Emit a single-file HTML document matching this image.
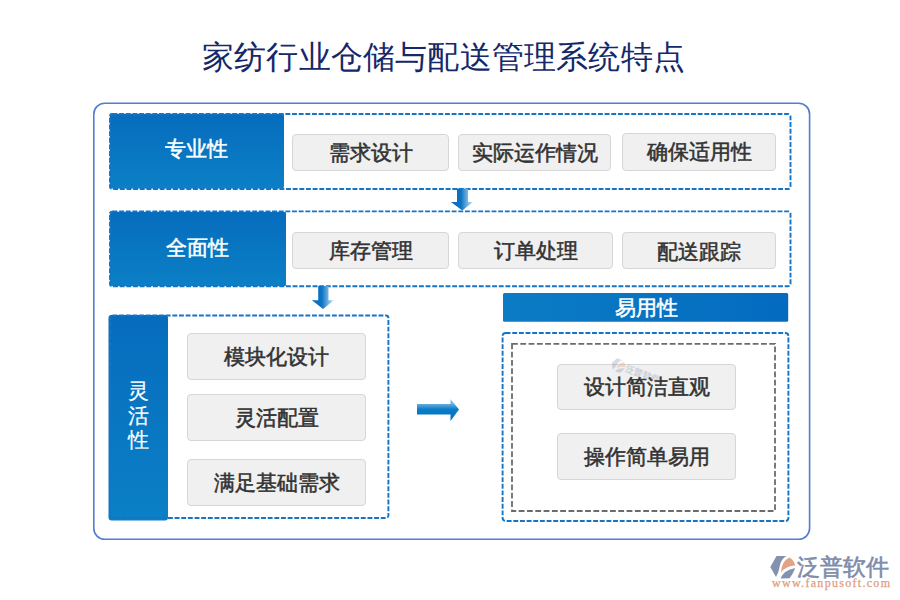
<!DOCTYPE html>
<html><head><meta charset="utf-8">
<style>
html,body{margin:0;padding:0;background:#fff;}
body{width:900px;height:600px;position:relative;overflow:hidden;font-family:"Liberation Serif",serif;}
.a{position:absolute;}
svg.bg{position:absolute;left:0;top:0;}
.title{position:absolute;left:0;top:0;width:900px;height:112px;}
.t{position:absolute;display:flex;align-items:center;justify-content:center;white-space:nowrap;}
.title-t{left:202px;top:37px;letter-spacing:0.2px;height:40px;font-size:32px;color:#15296a;line-height:40px;}
.btn{position:absolute;box-sizing:border-box;background:#f0f0f0;border:1px solid #d6d6d6;border-radius:4px;display:flex;align-items:center;justify-content:center;font-size:21px;font-weight:normal;-webkit-text-stroke:0.55px #333;color:#333;white-space:nowrap;}
.dsh{fill:none;stroke:#1474c6;stroke-width:1.9;stroke-dasharray:4.9 1.75;}
.lbl{position:absolute;display:flex;align-items:center;justify-content:center;color:#fff;font-size:21px;font-weight:normal;-webkit-text-stroke:0.5px #fff;white-space:nowrap;}
</style></head><body>
<svg class="bg" width="900" height="600" viewBox="0 0 900 600">
<defs>
<linearGradient id="gv" x1="0" y1="0" x2="0" y2="1">
<stop offset="0" stop-color="#066cbd"/><stop offset="1" stop-color="#0b80c6"/>
</linearGradient>
<linearGradient id="gh" x1="0" y1="0" x2="1" y2="0">
<stop offset="0" stop-color="#0b7cc5"/><stop offset="1" stop-color="#046bc0"/>
</linearGradient>
<linearGradient id="ad" x1="0" y1="0" x2="1" y2="0">
<stop offset="0" stop-color="#066bbf"/><stop offset="0.45" stop-color="#0c72c2"/><stop offset="0.78" stop-color="#7fbbe5"/><stop offset="1" stop-color="#c4e1f4"/>
</linearGradient>
<linearGradient id="ar" x1="0" y1="0" x2="0" y2="1">
<stop offset="0" stop-color="#a2d0f0"/><stop offset="0.23" stop-color="#66ace0"/><stop offset="0.47" stop-color="#0a7cc6"/><stop offset="1" stop-color="#0470c0"/>
</linearGradient>
</defs>
<!-- outer box -->
<rect x="93.8" y="103.2" width="715.8" height="436.1" rx="11" ry="11" fill="none" stroke="#527dd3" stroke-width="1.6"/>
<!-- row1 -->
<rect x="109" y="113" width="175" height="76" rx="3" fill="url(#gv)"/>
<rect x="109.5" y="113.5" width="681" height="75.5" rx="2.5" fill="none" stroke="#fff" stroke-opacity="0.8" stroke-width="1"/>
<rect x="110" y="114" width="680.5" height="75" rx="2.5" class="dsh"/>
<!-- arrow 1 -->
<path d="M457 188.5 H468 V202 H473 L462.3 210.5 L451 202 H457 Z" fill="url(#ad)"/>
<!-- row2 -->
<rect x="109" y="211" width="177" height="76" rx="3" fill="url(#gv)"/>
<rect x="109.5" y="211.5" width="681" height="75" rx="2.5" fill="none" stroke="#fff" stroke-opacity="0.8" stroke-width="1"/>
<rect x="110" y="211.4" width="680.5" height="74.9" rx="2.5" class="dsh"/>
<!-- arrow 2 -->
<path d="M318.2 286 H328.5 V300.3 H333.8 L323.1 309 L311.9 300.3 H318.2 Z" fill="url(#ad)"/>
<!-- row3 left -->
<rect x="108.5" y="315" width="59.5" height="205.5" rx="3" fill="url(#gv)"/>
<rect x="110" y="315.5" width="278.4" height="202.5" rx="2.5" class="dsh"/>
<!-- right arrow -->
<path d="M417 404 H450.5 V399 L459 409.5 L450.5 421 V414.5 H417 Z" fill="url(#ar)"/>
<!-- easy bar -->
<rect x="503" y="293" width="285.2" height="28.8" rx="1.5" fill="url(#gh)"/>
<rect x="502.6" y="333" width="285.8" height="188" rx="3" class="dsh"/>
<rect x="512" y="343.9" width="263" height="167.1" fill="none" stroke="#6c6c6c" stroke-width="1.8" stroke-dasharray="5.8 2.5"/>
<!-- logo icon -->
<path d="M776.5 556 L786.5 556 Q781 559 779.8 566 Q779 572 776 577 L770.3 567 Z" fill="#8492b0"/>
<path d="M781 572.5 Q781.5 561 789.5 557.5 Q794 560 795.2 565.6 Q786 566 781 572.5 Z" fill="#e4a285"/>
<path d="M780.5 578.5 Q784 570 795.3 568 Q793 574 789.5 578.3 Z" fill="#8492b0"/>
</svg>
<div class="a" style="left:797px;top:553px;font-family:'Liberation Sans',sans-serif;font-size:23px;line-height:28px;color:#7f8caa;white-space:nowrap;-webkit-text-stroke:0.6px #7f8caa;">泛普软件</div>
<div class="a" style="left:772px;top:577px;font-family:'Liberation Serif',serif;font-size:12px;line-height:13px;letter-spacing:1.3px;color:#e09c7e;-webkit-text-stroke:0.25px #e09c7e;white-space:nowrap;">www.fanpusoft.com</div>

<div class="a" style="left:614px;top:356px;width:60px;height:26px;opacity:0.32;transform:rotate(20deg);transform-origin:0 0;z-index:5;pointer-events:none;">
<svg width="15" height="15" viewBox="770 555 26 24" style="position:absolute;left:0px;top:0px;"><path d="M776.5 556 L786.5 556 Q781 559 779.8 566 Q779 572 776 577 L770.3 567 Z" fill="#8492b0"/><path d="M781 572.5 Q781.5 561 789.5 557.5 Q794 560 795.2 565.6 Q786 566 781 572.5 Z" fill="#e4a285"/><path d="M780.5 578.5 Q784 570 795.3 568 Q793 574 789.5 578.3 Z" fill="#8492b0"/></svg>
<div style="position:absolute;left:15px;top:2px;font-family:'Liberation Sans',sans-serif;font-size:9px;line-height:11px;color:#7f8caa;white-space:nowrap;font-weight:bold;">泛普软件</div>
</div>
<div class="t title-t">家纺行业仓储与配送管理系统特点</div>

<div class="lbl" style="left:109px;top:113px;width:175px;height:72px;">专业性</div>
<div class="btn" style="left:292px;top:134px;width:157px;height:37px;">需求设计</div>
<div class="btn" style="left:458px;top:134px;width:153px;height:37px;">实际运作情况</div>
<div class="btn" style="left:622px;top:133px;width:154px;height:38px;">确保适用性</div>

<div class="lbl" style="left:109px;top:212px;width:177px;height:72px;">全面性</div>
<div class="btn" style="left:292px;top:232px;width:157px;height:37px;">库存管理</div>
<div class="btn" style="left:458px;top:232px;width:155px;height:37px;">订单处理</div>
<div class="btn" style="left:622px;top:232px;width:154px;height:37px;padding-top:2px;">配送跟踪</div>

<div class="lbl" style="left:108px;top:377px;width:60px;height:78px;flex-direction:column;line-height:24.8px;font-weight:normal;-webkit-text-stroke:0.2px #fff;">灵<br>活<br>性</div>
<div class="btn" style="left:187px;top:333px;width:179px;height:47px;">模块化设计</div>
<div class="btn" style="left:187px;top:394px;width:179px;height:47px;">灵活配置</div>
<div class="btn" style="left:187px;top:459px;width:179px;height:47px;">满足基础需求</div>

<div class="lbl" style="left:504px;top:293px;width:285px;height:29px;">易用性</div>
<div class="btn" style="left:557px;top:364px;width:179px;height:46px;">设计简洁直观</div>
<div class="btn" style="left:557px;top:433px;width:179px;height:47px;">操作简单易用</div>

</body></html>
